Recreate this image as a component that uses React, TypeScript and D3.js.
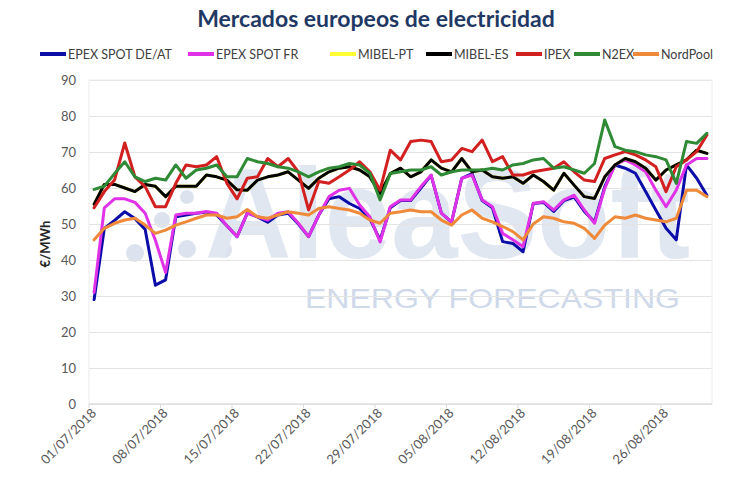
import React, { useRef, useEffect } from 'react';
import * as d3 from 'd3';

// daily prices 01/07/2018 .. 30/08/2018 (€/MWh)
const days = d3.timeDay.range(new Date(2018, 6, 1), new Date(2018, 7, 31));
const fmt = d3.timeFormat('%d/%m/%Y');

const tickLabels = ['01/07/2018', '08/07/2018', '15/07/2018', '22/07/2018', '29/07/2018', '05/08/2018', '12/08/2018', '19/08/2018', '26/08/2018'];
const yTicks = [0, 10, 20, 30, 40, 50, 60, 70, 80, 90];

const epexDE = [29, 48.8, 51, 53.4, 51.5, 48.5, 33, 34.5, 52, 52.5, 53, 53.3, 52.5, 49.5, 46.5, 53, 52, 50.5, 52.5, 53, 50, 46.5, 52.5, 57, 57.6, 55.7, 54.3, 51.5, 45.5, 54.5, 56.5, 56.5, 60, 63.5, 53, 50.5, 62.7, 64, 56.5, 54.5, 45.1, 44.6, 42.3, 55.7, 56, 53.5, 56.5, 57.5, 53.5, 50.6, 60.4, 66.4, 65.5, 64.1, 59, 53.9, 48.8, 45.6, 66.4, 62.7, 58];
const epexFR = [31, 54.5, 57, 57, 56, 53, 45.5, 36.5, 52.5, 53, 53, 53.5, 53, 49.5, 46.5, 53, 52, 51.1, 53, 53.4, 50.2, 46.5, 52.5, 57.6, 59.4, 59.9, 55.3, 52, 45, 54.8, 56.7, 56.7, 60.4, 63.6, 53, 50.6, 62.7, 63.6, 56.7, 54.8, 47.4, 45.6, 43.7, 55.7, 56.2, 53.9, 56.7, 58, 53.9, 50.2, 59.9, 66.4, 67.8, 66.4, 64.5, 59.4, 54.8, 59.4, 66.4, 68.2, 68.2];
const mibelPT = [55.5, 61, 61, 60, 59, 61, 60.5, 57.6, 60.5, 60.5, 60.5, 63.6, 63.1, 62.2, 59.5, 59.4, 62.2, 63.1, 63.6, 64.5, 62.2, 59.9, 62.7, 64.5, 65.5, 65.9, 65, 63.1, 58.5, 64, 65.5, 63.1, 64.5, 67.8, 65.5, 64.5, 68.2, 64.5, 65, 63.1, 62.7, 63.1, 61.3, 63.6, 61.8, 59.4, 64.1, 60.8, 57.6, 57.1, 63.1, 66.4, 68.2, 67.3, 65.5, 62.2, 65, 66.4, 67.8, 70.5, 69.6];
const mibelES = [55.5, 61, 61, 60, 59, 61, 60.5, 57.6, 60.5, 60.5, 60.5, 63.6, 63.1, 62.2, 59.5, 59.4, 62.2, 63.1, 63.6, 64.5, 62.2, 59.9, 62.7, 64.5, 65.5, 65.9, 65, 63.1, 58.5, 64, 65.5, 63.1, 64.5, 67.8, 65.5, 64.5, 68.2, 64.5, 65, 63.1, 62.7, 63.1, 61.3, 63.6, 61.8, 59.4, 64.1, 60.8, 57.6, 57.1, 63.1, 66.4, 68.2, 67.3, 65.5, 62.2, 65, 66.4, 67.8, 70.5, 69.6];
const ipex = [54.5, 59, 62.2, 72.5, 63.1, 60.4, 54.8, 54.8, 61.3, 66.4, 65.9, 66.4, 68.7, 61.3, 57, 62.7, 63.1, 68.2, 65.9, 68.2, 64.5, 53.9, 61.8, 61.3, 63.1, 65, 67.3, 64.5, 59.4, 70.5, 67.8, 72.9, 73.3, 72.9, 67.3, 67.8, 71, 70.1, 73.3, 67.3, 68.7, 63.6, 63.6, 64.5, 65, 65.5, 67.3, 64.5, 62.2, 61.8, 68.2, 69.2, 70.1, 69.2, 67.8, 65.9, 59, 65.9, 67.8, 70.1, 74.7];
const n2ex = [59.6, 60.5, 64, 67.3, 63.1, 61.8, 62.7, 62.2, 66.4, 62.7, 65, 65.5, 66.4, 63.1, 63.1, 68.2, 67.3, 66.8, 65.9, 65.5, 64.5, 63.1, 64.5, 65.5, 65.9, 66.8, 66.4, 64.1, 56.7, 64, 64.5, 65, 65, 65.9, 63.6, 64.5, 65, 65, 65, 65.5, 65, 66.4, 66.8, 67.8, 68.2, 65.5, 65.9, 65, 64.1, 66.8, 78.9, 71.5, 70.5, 70.1, 69.2, 68.7, 67.8, 61.3, 72.9, 72.4, 75.2];
const nordPool = [45.6, 48.8, 50.2, 51.1, 51.6, 49.7, 47.4, 48.3, 49.7, 50.6, 51.6, 52.5, 52.5, 51.6, 52, 54, 52, 51.6, 52.5, 53.4, 53, 52.5, 54.3, 54.8, 54.3, 53.9, 53, 51.1, 50.2, 53, 53.4, 53.9, 53.4, 53.4, 51.1, 49.7, 52.5, 53.9, 51.6, 50.6, 49.3, 47.9, 45.6, 50, 52, 51.6, 50.6, 50.2, 48.8, 46, 49.7, 52, 51.6, 52.5, 51.6, 51.1, 50.6, 51.6, 59.4, 59.4, 57.6];

const seriesNames = ['EPEX SPOT DE/AT', 'EPEX SPOT FR', 'MIBEL-PT', 'MIBEL-ES', 'IPEX', 'N2EX', 'NordPool'];
const seriesValues = [epexDE, epexFR, mibelPT, mibelES, ipex, n2ex, nordPool];
const seriesColors = ['#0c0ca8', '#e033e8', '#ffff33', '#000000', '#d21f1f', '#2f8a35', '#ee8a3a'];

const W = 745;
const H = 483;
const FONT = 'Lato, "Open Sans", sans-serif';

export default function App() {
  const svgRef = useRef<SVGSVGElement>(null);

  useEffect(() => {
    if (!svgRef.current) return;
    const svg = d3.select(svgRef.current);
    svg.selectAll('*').remove();

    const left = 89, right = 712, top = 80, bottom = 404;
    const cats = days.map(d => fmt(d));

    const x = d3.scalePoint<string>().domain(cats).range([left, right]).padding(0.5);
    const y = d3.scaleLinear().domain([0, 90]).range([bottom, top]);
    const step = x.step();

    svg.append('rect').attr('width', W).attr('height', H).attr('fill', '#fff');

    // watermark: logo dots + wordmark, kept apart so the boxes don't collide
    const wm = svg.append('g').attr('font-family', '"Liberation Sans", sans-serif');
    [[135, 253, 9], [162, 220, 8], [187, 197, 7], [187, 249, 9], [224, 250, 8]].forEach(([cx, cy, r]) => {
      wm.append('circle').attr('cx', cx).attr('cy', cy).attr('r', r).attr('fill', '#dde3ee');
    });
    wm.append('text')
      .attr('x', 205).attr('y', 258)
      .attr('font-size', 128).attr('font-weight', 'bold')
      .attr('fill', '#e1e7f1')
      .attr('textLength', 485).attr('lengthAdjust', 'spacingAndGlyphs')
      .text('AleaSoft');
    wm.append('text')
      .attr('x', 305).attr('y', 308)
      .attr('font-size', 28)
      .attr('fill', '#cfd9ea')
      .attr('textLength', 375).attr('lengthAdjust', 'spacingAndGlyphs')
      .text('ENERGY FORECASTING');

    // grid
    const grid = d3.axisLeft(y).tickValues(yTicks).tickSize(-(right - left)).tickFormat(() => '');
    svg.append('g')
      .attr('transform', `translate(${left},0)`)
      .call(grid)
      .call(g => g.select('.domain').remove())
      .call(g => g.selectAll('line').attr('stroke', '#e3e3e3').attr('stroke-width', 1));

    // plot border
    svg.append('rect')
      .attr('x', left).attr('y', top)
      .attr('width', right - left).attr('height', bottom - top)
      .attr('fill', 'none').attr('stroke', '#ececec');

    // y labels
    svg.append('g')
      .selectAll('text')
      .data(yTicks)
      .join('text')
      .attr('x', 76)
      .attr('y', d => y(d) + 4.5)
      .attr('text-anchor', 'end')
      .attr('font-family', FONT)
      .attr('font-size', 13)
      .attr('fill', '#595959')
      .text(d => d);

    svg.append('text')
      .attr('transform', `translate(50,244) rotate(-90)`)
      .attr('text-anchor', 'middle')
      .attr('font-family', FONT)
      .attr('font-size', 13)
      .attr('font-weight', 'bold')
      .attr('fill', '#262626')
      .text('€/MWh');

    // x axis
    svg.append('line')
      .attr('x1', left).attr('x2', right)
      .attr('y1', bottom).attr('y2', bottom)
      .attr('stroke', '#d9d9d9');

    const tickIdx = tickLabels.map(t => cats.indexOf(t));
    svg.append('g')
      .selectAll('line')
      .data(tickIdx)
      .join('line')
      .attr('x1', i => (x(cats[i]) as number) - step / 2)
      .attr('x2', i => (x(cats[i]) as number) - step / 2)
      .attr('y1', bottom).attr('y2', bottom + 4)
      .attr('stroke', '#d9d9d9');

    svg.append('g')
      .selectAll('text')
      .data(tickLabels)
      .join('text')
      .attr('transform', t => `translate(${(x(t) as number) + 3},${bottom + 10}) rotate(-45)`)
      .attr('text-anchor', 'end')
      .attr('font-family', FONT)
      .attr('font-size', 13)
      .attr('fill', '#595959')
      .text(t => t);

    // series
    seriesValues.forEach((vals, s) => {
      const line = d3.line<number>()
        .x((_, i) => x(cats[i]) as number)
        .y(v => y(v));
      svg.append('path')
        .datum(vals)
        .attr('fill', 'none')
        .attr('stroke', seriesColors[s])
        .attr('stroke-width', 3)
        .attr('stroke-linejoin', 'round')
        .attr('stroke-linecap', 'round')
        .attr('d', line);
    });

    // title
    svg.append('text')
      .attr('x', 376).attr('y', 27)
      .attr('text-anchor', 'middle')
      .attr('font-family', FONT)
      .attr('font-size', 23)
      .attr('font-weight', 'bold')
      .attr('fill', '#1f3864')
      .text('Mercados europeos de electricidad');

    // legend
    const legendX = [40, 188, 330, 426, 516, 574, 633];
    const lg = svg.append('g').attr('font-family', FONT).attr('font-size', 12.5).attr('fill', '#404040');
    seriesNames.forEach((name, s) => {
      const lx = legendX[s];
      lg.append('line')
        .attr('x1', lx).attr('x2', lx + 26)
        .attr('y1', 54).attr('y2', 54)
        .attr('stroke', seriesColors[s])
        .attr('stroke-width', 4);
      lg.append('text')
        .attr('x', lx + 28).attr('y', 58.5)
        .text(name);
    });
  }, []);

  return (
    <svg
      ref={svgRef}
      width={W}
      height={H}
      style={{ position: 'absolute', left: 0, top: 0, display: 'block' }}
    />
  );
}
